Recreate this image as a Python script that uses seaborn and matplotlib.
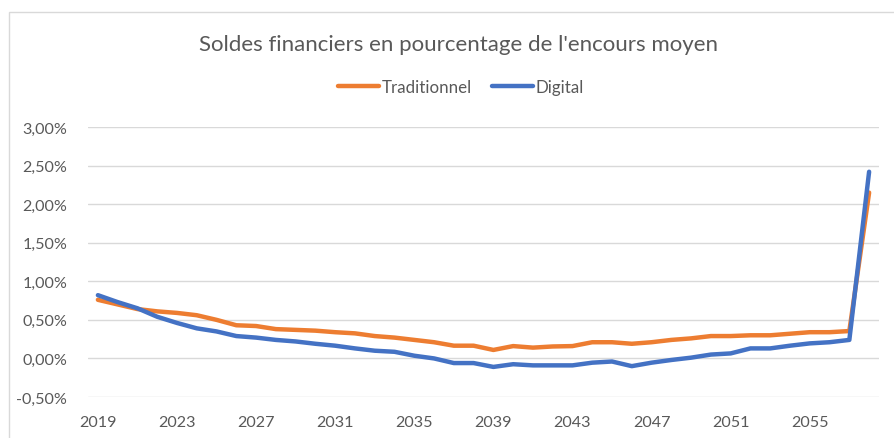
import numpy as np
import pandas as pd
import matplotlib
matplotlib.use("Agg")
import matplotlib.pyplot as plt
import seaborn as sns
from matplotlib.patches import Rectangle
from matplotlib.ticker import FuncFormatter

# data (values in %)
years = list(range(2019, 2059))
traditionnel = [0.76, 0.70, 0.64, 0.61, 0.59, 0.56, 0.50, 0.43, 0.42, 0.38,
                0.37, 0.36, 0.34, 0.325, 0.29, 0.27, 0.24, 0.21, 0.165, 0.165,
                0.11, 0.16, 0.14, 0.155, 0.16, 0.21, 0.21, 0.19, 0.21, 0.24,
                0.26, 0.29, 0.29, 0.30, 0.30, 0.32, 0.34, 0.34, 0.355, 2.15]
digital = [0.82, 0.73, 0.65, 0.54, 0.46, 0.39, 0.35, 0.29, 0.27, 0.24,
           0.22, 0.19, 0.165, 0.13, 0.10, 0.086, 0.035, 0.00, -0.06, -0.06,
           -0.11, -0.075, -0.09, -0.09, -0.09, -0.055, -0.04, -0.10, -0.055, -0.02,
           0.01, 0.05, 0.065, 0.13, 0.13, 0.165, 0.195, 0.21, 0.24, 2.42]
series_names = ["Traditionnel", "Digital"]
title = "Soldes financiers en pourcentage de l'encours moyen"

df = pd.DataFrame({
    "annee": years * 2,
    "valeur": traditionnel + digital,
    "serie": [series_names[0]] * len(years) + [series_names[1]] * len(years),
})

sns.set_theme(style="white")
plt.rcParams["font.family"] = ["Lato", "DejaVu Sans"]
grey = "#595959"

fig = plt.figure(figsize=(8.95, 4.39), dpi=100)
ax = fig.add_axes([88 / 895, 1 - 398 / 439, (879 - 88) / 895, (398 - 128) / 439])

sns.lineplot(data=df, x="annee", y="valeur", hue="serie", ax=ax,
             palette={"Traditionnel": "#ED7D31", "Digital": "#4472C4"},
             linewidth=3.2, legend=False)

ax.set_xlim(2018.5, 2058.5)
ax.set_ylim(-0.5, 3.0)
ax.set_yticks(np.arange(-0.5, 3.01, 0.5))
ax.yaxis.set_major_formatter(FuncFormatter(lambda v, p: f"{v:.2f}%".replace(".", ",")))
ax.set_xticks(years[::4])
ax.grid(axis="y", color="#d9d9d9", linewidth=1)
ax.set_axisbelow(True)
for s in ax.spines.values():
    s.set_visible(False)
ax.tick_params(axis="both", length=0, labelsize=11.6, colors=grey)
ax.tick_params(axis="y", pad=15)
ax.tick_params(axis="x", pad=13)
ax.set_xlabel("")
ax.set_ylabel("")

fig.text(0.512, 1 - 45 / 439, title, ha="center", va="center",
         fontsize=16, color=grey)

handles = [plt.Line2D([], [], color=c, lw=3.2) for c in ["#ED7D31", "#4472C4"]]
fig.legend(handles, series_names, loc="center", bbox_to_anchor=(0.515, 1 - 88 / 439),
           ncol=2, frameon=False, fontsize=12.2, handlelength=2.4, handletextpad=0.15,
           columnspacing=1.2, labelcolor=grey)

# light chart border, cut off on the right and bottom like the screenshot
fig.patches.append(Rectangle((9 / 895, -0.2), 1.2, 1.2 - 13 / 439,
                             transform=fig.transFigure, fill=False,
                             edgecolor="#d9d9d9", linewidth=1))

fig.savefig("out.png", dpi=100)
